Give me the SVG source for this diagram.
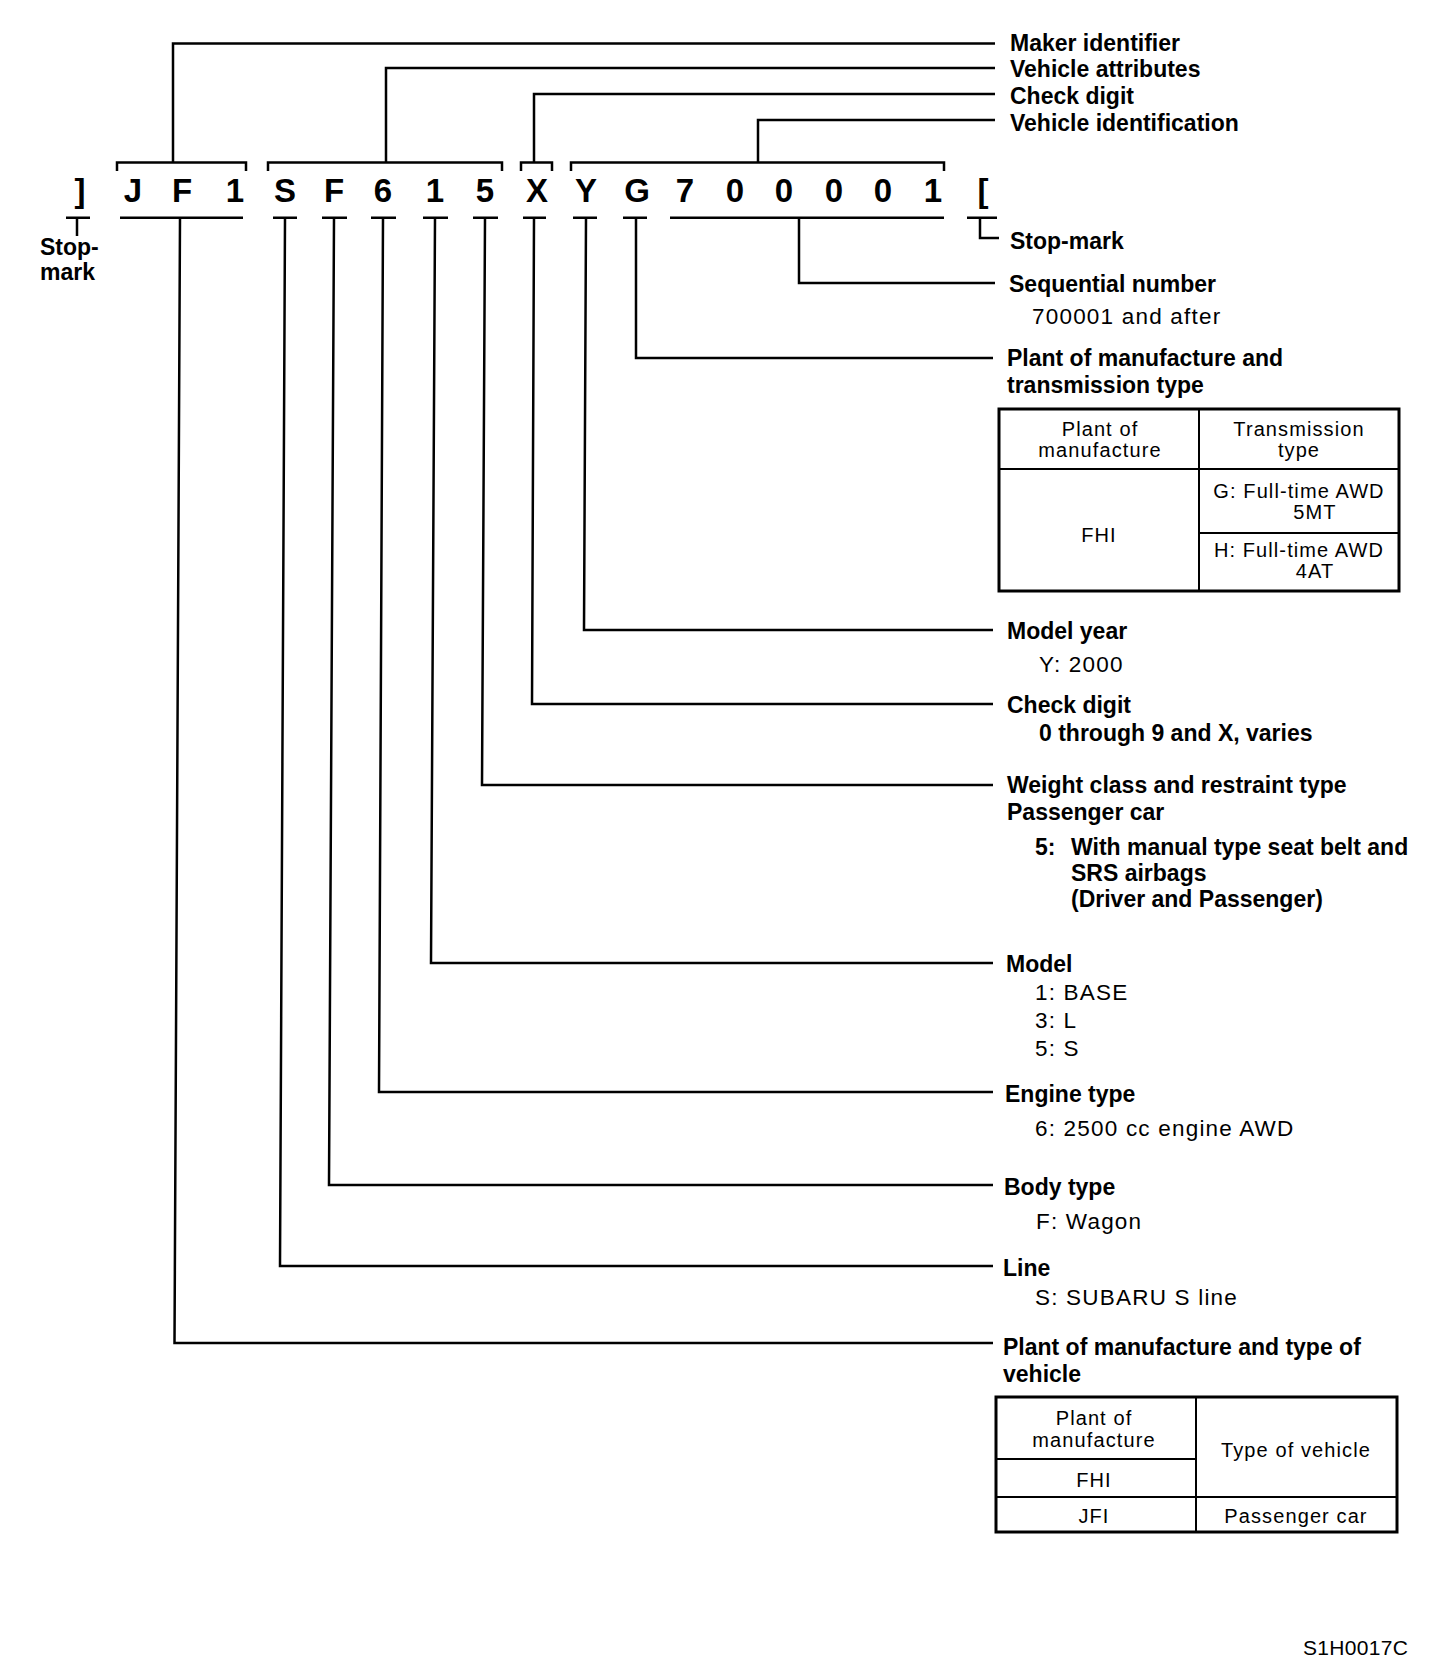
<svg xmlns="http://www.w3.org/2000/svg" width="1456" height="1676" viewBox="0 0 1456 1676">
<style>
.h{font-family:"Liberation Sans",Arial,sans-serif;font-weight:bold;font-size:23px;fill:#000}
.s{font-family:"Liberation Sans",Arial,sans-serif;font-size:22.5px;letter-spacing:1.2px;fill:#000}
.t{font-family:"Liberation Sans",Arial,sans-serif;font-size:20px;letter-spacing:1.1px;fill:#000;text-anchor:middle}
.v{font-family:"Liberation Sans",Arial,sans-serif;font-weight:bold;font-size:33px;fill:#000;text-anchor:middle}
.ln{stroke:#000;stroke-width:2.5;fill:none}
.tb{stroke:#000;stroke-width:3;fill:none}
.tl{stroke:#000;stroke-width:2;fill:none}
</style>
<rect width="1456" height="1676" fill="#fff"/>
<g id="vin">
<text class="v" x="80" y="202">]</text>
<text class="v" x="133" y="202">J</text>
<text class="v" x="182" y="202">F</text>
<text class="v" x="235" y="202">1</text>
<text class="v" x="285" y="202">S</text>
<text class="v" x="334" y="202">F</text>
<text class="v" x="383" y="202">6</text>
<text class="v" x="435" y="202">1</text>
<text class="v" x="485" y="202">5</text>
<text class="v" x="537" y="202">X</text>
<text class="v" x="586" y="202">Y</text>
<text class="v" x="637" y="202">G</text>
<text class="v" x="685" y="202">7</text>
<text class="v" x="735" y="202">0</text>
<text class="v" x="784" y="202">0</text>
<text class="v" x="834" y="202">0</text>
<text class="v" x="883" y="202">0</text>
<text class="v" x="933" y="202">1</text>
<text class="v" x="983" y="202">[</text>
</g>
<g id="connectors">
<path class="ln" d="M117,171V162.5H246V171M268,171V162.5H502V171M521,171V162.5H552V171M571,171V162.5H944V171"/>
<path class="ln" d="M173,162.5V43.5H995M386,162.5V68H995M534,162.5V94H995M758,162.5V120H995"/>
<path class="ln" d="M66,217.7H90M120,217.7H243M273,217.7H297M322,217.7H347M371,217.7H396M423,217.7H448M473,217.7H498M523,217.7H546M573,217.7H597M623,217.7H647M670,217.7H944M967,217.7H997"/>
<path class="ln" d="M77,217.7V236M980,217.7V238H999"/>
<path class="ln" d="M799,217.7V283H995"/>
<path class="ln" d="M636,217.7L636,358H993"/>
<path class="ln" d="M586,217.7L584,630H993"/>
<path class="ln" d="M534,217.7L532,704H993"/>
<path class="ln" d="M485,217.7L482,785H993"/>
<path class="ln" d="M435,217.7L431,963H993"/>
<path class="ln" d="M383,217.7L379,1092H993"/>
<path class="ln" d="M334,217.7L329,1185H993"/>
<path class="ln" d="M285,217.7L280,1266H993"/>
<path class="ln" d="M180,217.7L174.5,1343H993"/>
</g>
<g id="stop-left"><text class="h" x="40" y="255">Stop-</text><text class="h" x="40" y="280">mark</text></g>
<g id="maker"><text class="h" x="1010" y="51">Maker identifier</text></g>
<g id="attributes"><text class="h" x="1010" y="77">Vehicle attributes</text></g>
<g id="check-top"><text class="h" x="1010" y="104">Check digit</text></g>
<g id="identification"><text class="h" x="1010" y="131">Vehicle identification</text></g>
<g id="stop-right"><text class="h" x="1010" y="249">Stop-mark</text></g>
<g id="sequential"><text class="h" x="1009" y="292">Sequential number</text><text class="s" x="1032" y="324">700001 and after</text></g>
<g id="plant-trans">
<text class="h" x="1007" y="366">Plant of manufacture and</text>
<text class="h" x="1007" y="393">transmission type</text>
<rect class="tb" x="999" y="409" width="400" height="182"/>
<path class="tl" d="M1199,409V591M999,469H1399M1199,533H1399"/>
<text class="t" x="1100" y="436">Plant of</text>
<text class="t" x="1100" y="457">manufacture</text>
<text class="t" x="1299" y="436">Transmission</text>
<text class="t" x="1299" y="457">type</text>
<text class="t" x="1099" y="542">FHI</text>
<text class="t" x="1299" y="498">G: Full-time AWD</text>
<text class="t" x="1315" y="519">5MT</text>
<text class="t" x="1299" y="557">H: Full-time AWD</text>
<text class="t" x="1315" y="578">4AT</text>
</g>
<g id="model-year"><text class="h" x="1007" y="639">Model year</text><text class="s" x="1039" y="672">Y: 2000</text></g>
<g id="check"><text class="h" x="1007" y="713">Check digit</text><text class="h" x="1039" y="741">0 through 9 and X, varies</text></g>
<g id="weight">
<text class="h" x="1007" y="793">Weight class and restraint type</text>
<text class="h" x="1007" y="820">Passenger car</text>
<text class="h" x="1035" y="855">5:</text>
<text class="h" x="1071" y="855">With manual type seat belt and</text>
<text class="h" x="1071" y="881">SRS airbags</text>
<text class="h" x="1071" y="907">(Driver and Passenger)</text>
</g>
<g id="model">
<text class="h" x="1006" y="972">Model</text>
<text class="s" x="1035" y="1000">1: BASE</text>
<text class="s" x="1035" y="1028">3: L</text>
<text class="s" x="1035" y="1056">5: S</text>
</g>
<g id="engine"><text class="h" x="1005" y="1102">Engine type</text><text class="s" x="1035" y="1136">6: 2500 cc engine AWD</text></g>
<g id="body"><text class="h" x="1004" y="1195">Body type</text><text class="s" x="1036" y="1229">F: Wagon</text></g>
<g id="line"><text class="h" x="1003" y="1276">Line</text><text class="s" x="1035" y="1305">S: SUBARU S line</text></g>
<g id="plant-type">
<text class="h" x="1003" y="1355">Plant of manufacture and type of</text>
<text class="h" x="1003" y="1382">vehicle</text>
<rect class="tb" x="996" y="1397" width="401" height="135"/>
<path class="tl" d="M1196,1397V1532M996,1459H1196M996,1497H1397"/>
<text class="t" x="1094" y="1425">Plant of</text>
<text class="t" x="1094" y="1447">manufacture</text>
<text class="t" x="1296" y="1457">Type of vehicle</text>
<text class="t" x="1094" y="1487">FHI</text>
<text class="t" x="1094" y="1523">JFI</text>
<text class="t" x="1296" y="1523">Passenger car</text>
</g>
<g id="code"><text class="s" x="1303" y="1655" style="font-size:21px;letter-spacing:0.3px">S1H0017C</text></g>
</svg>
